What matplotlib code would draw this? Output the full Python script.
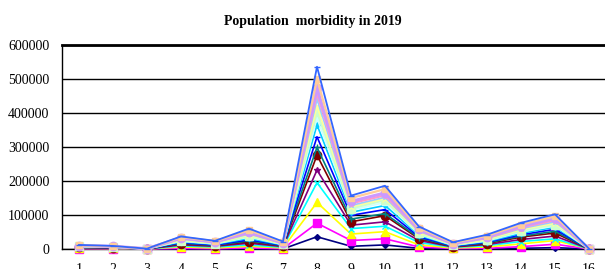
import matplotlib
matplotlib.use("Agg")
import matplotlib.pyplot as plt

plt.rcParams['font.family'] = ['Liberation Serif', 'DejaVu Serif']

categories = list(range(1, 17))

# plotted (cumulative) values, bottom series first
s_navy = [200, 200, 0, 500, 300, 700, 300, 36000, 8000, 12000, 2000, 500, 800, 2000, 4000, 0]
s_magenta = [1000, 800, 100, 2000, 1000, 3000, 1000, 76000, 25000, 30000, 6000, 1500, 2000, 7000, 14000, 100]
s_yellow = [2000, 1500, 200, 6000, 3000, 8000, 3000, 137000, 44000, 51000, 12000, 3000, 6000, 15000, 25000, 200]
s_cyan = [3000, 2500, 300, 9000, 6000, 12000, 5000, 195000, 60000, 67000, 19000, 5000, 10000, 22000, 30000, 300]
s_purple = [4000, 3000, 400, 12000, 8000, 17000, 7000, 232000, 70000, 80000, 25000, 6000, 13000, 28000, 38000, 400]
s_maroon = [5000, 3500, 400, 15000, 10000, 21000, 9000, 276000, 80000, 98000, 30000, 7000, 16000, 35000, 47000, 400]
s_teal = [5500, 4000, 500, 17000, 11000, 24000, 10000, 299000, 88000, 104000, 33000, 8000, 18000, 38000, 52000, 500]
s_blue = [6000, 4500, 500, 19000, 12000, 27000, 11000, 330000, 99000, 116000, 36000, 9000, 20000, 42000, 58000, 500]
s_skyblue = [6500, 5000, 600, 21000, 14000, 31000, 12000, 365000, 108000, 128000, 40000, 10000, 22000, 46000, 64000, 600]
s_turq = [7000, 5500, 600, 23000, 15000, 35000, 13000, 385000, 114000, 137000, 43000, 11000, 24000, 50000, 68000, 600]
s_lgreen = [8000, 6000, 700, 25000, 16000, 38000, 14000, 404000, 119000, 144000, 46000, 12000, 26000, 54000, 72000, 700]
s_lyellow = [8500, 6500, 700, 27000, 18000, 41000, 15000, 420000, 124000, 148000, 49000, 13000, 28000, 57000, 76000, 700]
s_paleblue = [9000, 7000, 800, 29000, 19000, 44000, 16000, 440000, 128000, 152000, 52000, 14000, 31000, 60000, 80000, 800]
s_rose = [9500, 7500, 800, 31000, 20000, 47000, 17000, 458000, 134000, 158000, 55000, 15000, 33000, 63000, 85000, 800]
s_lavender = [10000, 8000, 1000, 33000, 21000, 50000, 18000, 473000, 140000, 165000, 58000, 16000, 36000, 67000, 90000, 1000]
s_tan = [11000, 8000, 1000, 35000, 23000, 55000, 20000, 500000, 150000, 176000, 62000, 18000, 39000, 72000, 96000, 1000]
s_royal = [12000, 9000, 1000, 37000, 24000, 60000, 22000, 536000, 157000, 186000, 66000, 20000, 42000, 77000, 102000, 1000]

series = [
    (s_navy, '#000080', 'D', 3, 1.2),
    (s_magenta, '#FF00FF', 's', 6, 1.2),
    (s_yellow, '#FFFF00', '^', 6, 1.2),
    (s_cyan, '#00FFFF', 'x', 4, 1.2),
    (s_purple, '#800080', '*', 4, 1.2),
    (s_maroon, '#800000', 'o', 6, 1.2),
    (s_teal, '#008080', '+', 5, 1.2),
    (s_blue, '#0000FF', '_', 5, 1.2),
    (s_skyblue, '#00CCFF', 'D', 3, 1.2),
    (s_turq, '#CCFFFF', 's', 4, 1.2),
    (s_lgreen, '#CCFFCC', 's', 6, 1.6),
    (s_lyellow, '#FFFF99', 'x', 4, 1.2),
    (s_paleblue, '#99CCFF', '*', 4, 1.2),
    (s_rose, '#FF99CC', 'o', 4, 1.6),
    (s_lavender, '#CC99FF', 'o', 6, 2.2),
    (s_tan, '#FFCC99', 's', 4, 1.6),
    (s_royal, '#3366FF', '_', 5, 1.3),
]

fig = plt.figure(figsize=(6.05, 2.69), dpi=100)
ax = fig.add_axes([62 / 605, 1 - 249 / 269, 544 / 605, 204 / 269])

for vals, color, marker, ms, lw in series:
    ax.plot(categories, vals, color=color, marker=marker, markersize=ms,
            linewidth=lw, markeredgecolor=color, markerfacecolor=color,
            clip_on=False, zorder=3)

ax.set_xlim(0.5, 16.5)
ax.set_ylim(0, 600000)
ax.set_yticks(range(0, 600001, 100000))
ax.set_xticks(categories)
ax.yaxis.grid(True, color='black', linewidth=1.0)
ax.set_axisbelow(True)
ax.tick_params(axis='both', length=0, labelsize=10)
ax.tick_params(axis='y', pad=9)
ax.tick_params(axis='x', pad=10)
for side in ['right']:
    ax.spines[side].set_visible(False)
ax.spines['top'].set_linewidth(2)
ax.spines['left'].set_linewidth(1)
ax.spines['bottom'].set_linewidth(1)

fig.text(313 / 605, 1 - 21 / 269, "Population  morbidity in 2019",
         ha='center', va='center', fontsize=10, fontweight='bold')

plt.savefig("out.png", dpi=100)
plt.close(fig)
